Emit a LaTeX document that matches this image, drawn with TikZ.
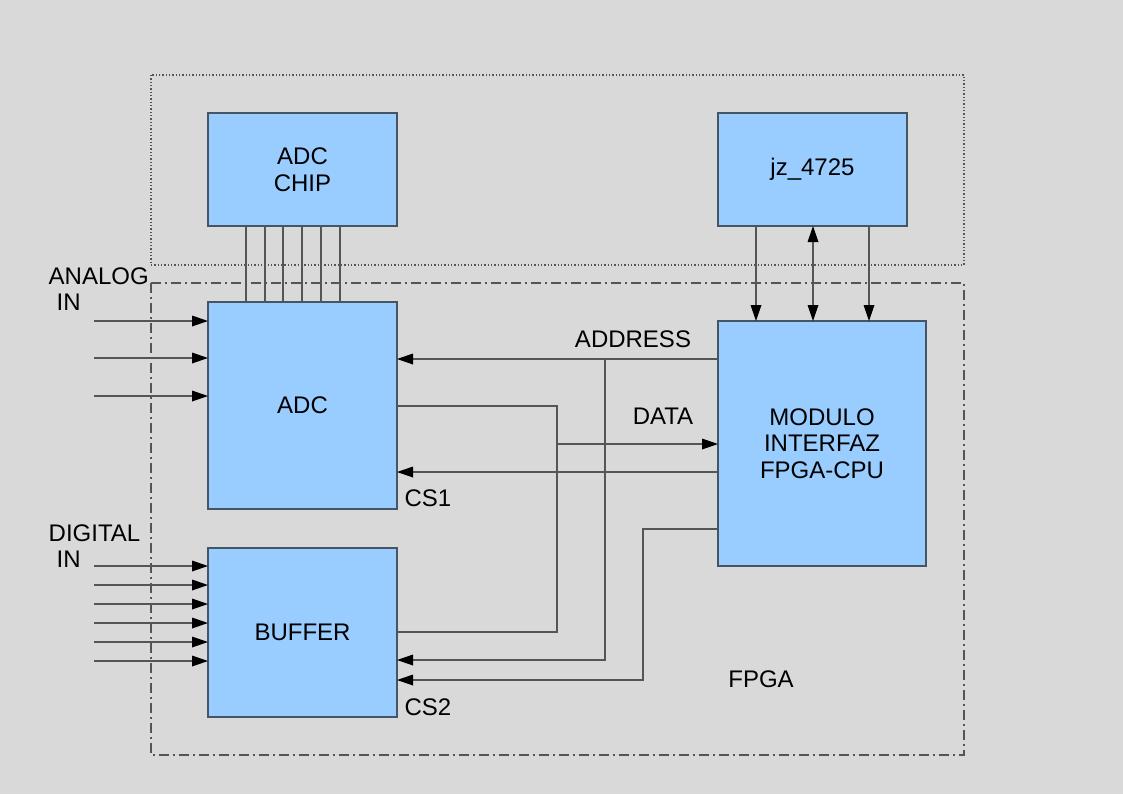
\documentclass[tikz,border=0pt]{standalone}
\usepackage{fontspec}
\setmainfont{Liberation Sans}
\usetikzlibrary{arrows.meta,positioning}

\definecolor{bgray}{RGB}{217,217,217}
\definecolor{boxblue}{RGB}{153,204,255}
\definecolor{boxline}{RGB}{70,85,100}
\definecolor{wiregray}{RGB}{85,85,85}

\begin{document}
\begin{tikzpicture}[x=0.75pt,y=-0.75pt,
  every node/.style={font=\fontsize{18}{20}\selectfont},
  block/.style={draw=boxline,fill=boxblue,line width=0.9pt,inner sep=0pt,outer sep=0pt,align=center,minimum width=141.75pt},
  wire/.style={draw=wiregray,line width=0.9pt},
  >={Triangle[length=12pt,width=8pt,color=black]}]
\fill [bgray] (0,0) rectangle (1123,794);
\useasboundingbox (0,0) rectangle (1123,794);
% frames
\draw [wiregray,line width=0.9pt,dash pattern=on 1pt off 1.5pt] (151,75) rectangle (964,265);
\draw [wiregray,line width=0.9pt,dash pattern=on 7.5pt off 3pt on 1.5pt off 3pt] (151,283) rectangle (964,755);
% blocks
\node [block,minimum height=84.75pt] (chip) at (302.5,169.5) {ADC\\CHIP};
\node [block,minimum height=84.75pt] (cpu) at (812.5,169.5) {jz\_4725};
\node [block,minimum height=155.25pt] (adc) at (302.5,405.5) {ADC};
\node [block,minimum height=126.75pt] (buffer) at (302.5,632.5) {BUFFER};
\node [block,minimum width=156pt,minimum height=183.75pt] (modulo) at (822,443.5) {MODULO\\INTERFAZ\\FPGA-CPU};
% labels
\node [anchor=west,align=left] (analogin) at (44,289) {ANALOG\\\hspace{6pt}IN};
\node [anchor=west,align=left] (digitalin) at (44,546) {DIGITAL\\\hspace{6pt}IN};
\node (address) at (633,339) {ADDRESS};
\node (data) at (663,416) {DATA};
\node (csone) at (428,498) {CS1};
\node (cstwo) at (428,707) {CS2};
\node (fpga) at (761,679) {FPGA};
% chip to adc
\foreach \x in {246,265,283,302,321,340}
  \draw [wire] (chip.south -| \x,0) -- (adc.north -| \x,0);
% cpu to modulo
\draw [wire,->] (cpu.south -| 756,0) -- (modulo.north -| 756,0);
\draw [wire,<->] (cpu.south -| 813,0) -- (modulo.north -| 813,0);
\draw [wire,->] (cpu.south -| 869,0) -- (modulo.north -| 869,0);
% inputs
\foreach \y in {321,358,396}
  \draw [wire,->] (94,\y) -- (adc.west |- 0,\y);
\foreach \y in {566,585,604,623,642,661}
  \draw [wire,->] (94,\y) -- (buffer.west |- 0,\y);
% address
\coordinate (addrtap) at (605,359);
\draw [wire,->] (modulo.west |- addrtap) -- (adc.east |- addrtap);
\draw [wire,->] (addrtap) |- (buffer.east |- 0,660);
% data
\coordinate (datatap) at (557,444);
\draw [wire] (adc.east |- 0,406) -| (datatap |- 0,632) -- (buffer.east |- 0,632);
\draw [wire,->] (datatap) -- (modulo.west |- datatap);
% chip selects
\draw [wire,->] (modulo.west |- 0,472) -- (adc.east |- 0,472);
\draw [wire,->] (modulo.west |- 0,529) -| (643,680) -- (buffer.east |- 0,680);
\end{tikzpicture}
\end{document}
